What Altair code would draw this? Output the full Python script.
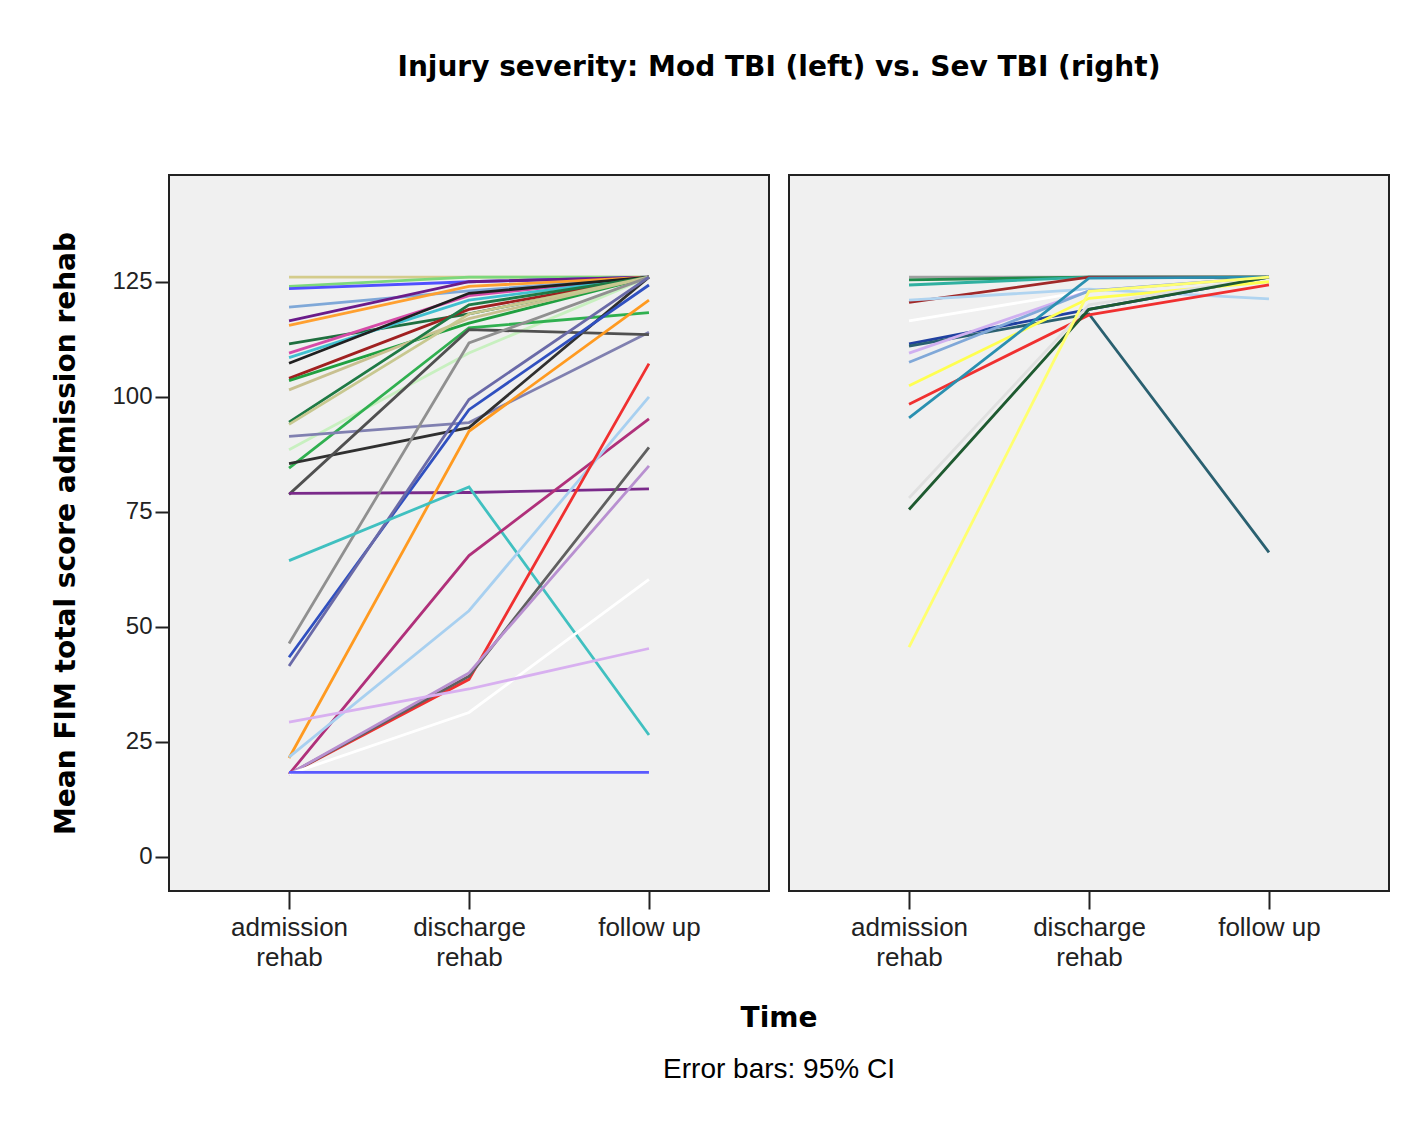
import altair as alt
import pandas as pd

times = ["admission rehab", "discharge rehab", "follow up"]
y_ticks = [0, 25, 50, 75, 100, 125]

# Mod TBI (left panel)
mod_admission = [126, 124, 123.5, 119.5, 116.5, 115.5, 111.5, 109.5, 108.5, 107.3,
                 104, 103.5, 101.5, 94.5, 94, 88.5, 84.5, 91.4, 85.5, 78.8,
                 79, 46.4, 43.4, 41.5, 21.5, 64.4, 18, 21.7, 18, 18,
                 18, 18, 29.3, 18.4]
mod_discharge = [126, 126, 125, 123, 125, 124, 118, 122, 121, 122.5,
                 119, 116, 117, 120, 118, 109.5, 115, 94.4, 93.3, 114.6,
                 79.2, 111.7, 97.2, 99.4, 92.5, 80.4, 65.5, 53.5, 38.6, 39.3,
                 40, 31.4, 36.5, 18.4]
mod_followup = [126, 126, 126, 126, 126, 126, 126, 126, 126, 126,
                126, 126, 126, 126, 126, 126, 118.3, 114, 126, 113.5,
                80, 126, 124.3, 126, 121, 26.5, 95.2, 100, 107.2, 89,
                85, 60.3, 45.3, 18.4]
mod_colors = ["#D4CC8C", "#7CD87C", "#5050FF", "#7FA8D8", "#6A1B8A", "#FFA030", "#1F6F3F",
              "#D64BA8", "#40C0D0", "#202020", "#A02020", "#20A040", "#C8C090", "#1E7A45",
              "#C8C890", "#C8F0C0", "#30B050", "#8080B0", "#303030", "#505050", "#7A2A8A",
              "#909090", "#3050C0", "#6A6AA8", "#FF9A20", "#40C0C0", "#B0307A", "#A8D0F0",
              "#F03030", "#606060", "#B890D0", "#FFFFFF", "#D8B0F0", "#5A5AFF"]

# Sev TBI (right panel)
sev_admission = [126, 125.4, 124.3, 120.5, 121, 116.5, 111.5, 111, 109.5, 107.5,
                 102.4, 98.4, 95.4, 78, 75.5, 45.6]
sev_discharge = [126, 126, 126, 126, 123.4, 123, 119, 118, 123, 123,
                 121.4, 117.8, 125.8, 120, 119, 122.9]
sev_followup = [126, 126, 126, 126, 121.3, 126, 126, 66.2, 126, 126,
                125, 124.3, 126, 126, 126, 126]
sev_colors = ["#A0A0A0", "#1E8A4A", "#30B0A0", "#A02828", "#B0D4F0", "#FFFFFF", "#2040A0",
              "#2A6070", "#D0B0F0", "#80A8D8", "#FFFF50", "#F03030", "#2A90B0", "#E0E0E0",
              "#1E5A30", "#FFFF70"]


def long_frame(adm, dis, fu, colors):
    rows = []
    for i, (a, d, f, c) in enumerate(zip(adm, dis, fu, colors)):
        for t, (name, v) in enumerate(zip(times, (a, d, f))):
            rows.append({"series": i, "time": name, "t": t, "value": v, "color": c})
    return pd.DataFrame(rows)


mod_df = long_frame(mod_admission, mod_discharge, mod_followup, mod_colors)
sev_df = long_frame(sev_admission, sev_discharge, sev_followup, sev_colors)

x_axis = alt.Axis(
    title=None,
    labelExpr="datum.label == 'follow up' ? datum.label : split(datum.label, ' ')",
    labelFont="Liberation Sans", labelFontSize=26, labelColor="#222",
    labelLineHeight=30, labelPadding=5, labelAngle=0,
    tickSize=18, tickWidth=2, tickColor="#222", domain=False, grid=False,
)


def panel(df, show_y):
    if show_y:
        y_axis = alt.Axis(
            values=y_ticks, title="Mean FIM total score admission rehab",
            titleFont="DejaVu Sans", titleFontSize=28, titleFontWeight="bold",
            titleColor="black", titlePadding=31,
            labelFont="Liberation Sans", labelFontSize=24, labelColor="#222",
            labelPadding=3, tickSize=14, tickWidth=2, tickColor="#222",
            domain=False, grid=False,
        )
    else:
        y_axis = None
    return alt.Chart(df).mark_line(strokeWidth=2.8).encode(
        x=alt.X("time:N", sort=times, scale=alt.Scale(type="point", padding=0.667), axis=x_axis),
        y=alt.Y("value:Q", scale=alt.Scale(domain=[-7.4, 148.2], nice=False, zero=False), axis=y_axis),
        color=alt.Color("color:N", scale=None),
        detail="series:N",
        order="t:Q",
    ).properties(width=600, height=716)


inner = alt.hconcat(
    panel(mod_df, True), panel(sev_df, False), spacing=18,
    title=alt.TitleParams(
        "Time", subtitle="Error bars: 95% CI", orient="bottom", anchor="middle",
        font="DejaVu Sans", fontSize=28, fontWeight="bold", color="black",
        subtitleFont="Liberation Sans", subtitleFontSize=28, subtitleColor="black",
        subtitlePadding=23, offset=34, dx=58,
    ),
)

chart = alt.vconcat(
    inner,
    title=alt.TitleParams(
        "Injury severity: Mod TBI (left) vs. Sev TBI (right)", anchor="middle",
        font="DejaVu Sans", fontSize=28, fontWeight="bold", color="black",
        offset=92, dx=58,
    ),
).properties(
    padding={"left": 43, "top": 46, "right": 5, "bottom": 5},
    background="white",
).configure_view(stroke="#222", strokeWidth=2, fill="#F0F0F0")

chart.save("out.html", embed_options={"renderer": "svg", "actions": False})
